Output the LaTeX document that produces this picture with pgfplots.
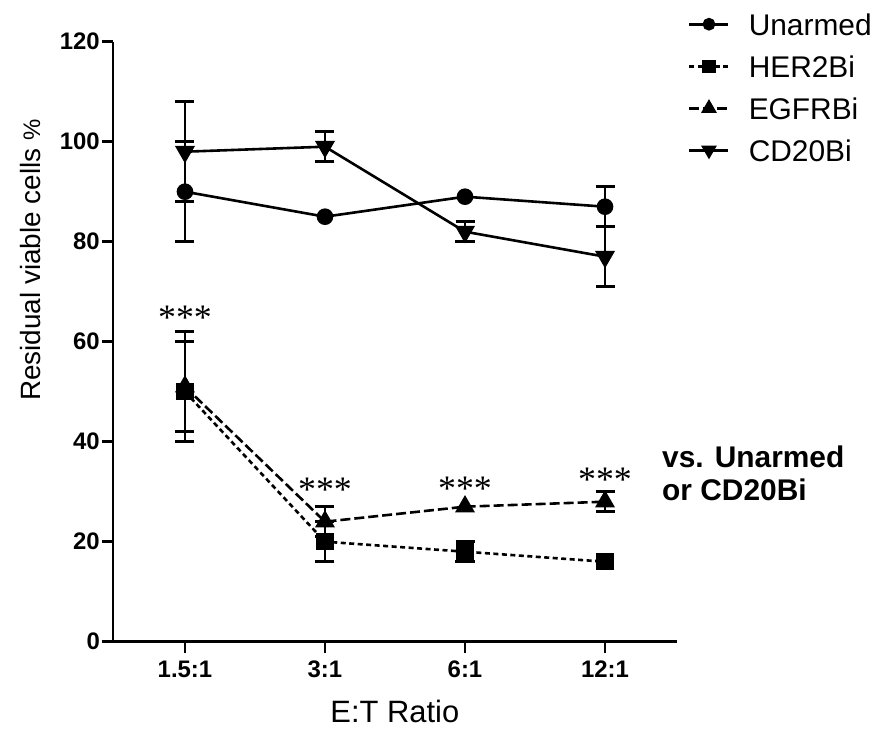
\documentclass[border=0pt]{standalone}
\usepackage{pgfplots}
\pgfplotsset{compat=1.18}
\usepackage{fontspec}
\setmainfont{Liberation Sans}
\newfontfamily\starfont{Liberation Serif}

% means; error tables hold only the visible bars
\pgfplotstableread{
x y
0 90
1 85
2 89
3 87
}\unarmed
\pgfplotstableread{
x y ep em
0 90 10 10
3 87 4 4
}\unarmedErr

\pgfplotstableread{
x y
0 50
1 20
2 18
3 16
}\her
\pgfplotstableread{
x y ep em
0 50 10 10
1 20 4 4
2 18 2 2
}\herErr

\pgfplotstableread{
x y
0 51
1 24
2 27
3 28
}\egfr
\pgfplotstableread{
x y ep em
0 51 11 9
1 24 3 3
3 28 2 2
}\egfrErr

\pgfplotstableread{
x y
0 98
1 99
2 82
3 77
}\cdtw
\pgfplotstableread{
x y ep em
0 98 10 10
1 99 3 3
2 82 2 2
3 77 6 6
}\cdtwErr

\pgfplotsset{
  errbars/.style={only marks, mark=none, forget plot, solid,
    error bars/.cd, y dir=both, y explicit,
    error bar style={line width=2.5bp, solid, black},
    error mark options={rotate=90, mark size=9.5bp, line width=2.5bp, black}},
}

\begin{document}
\begin{tikzpicture}
\path[use as bounding box] (0,0) rectangle (885bp,729bp);
\begin{axis}[
  at={(113bp,87.3bp)}, anchor=south west,
  scale only axis, width=563.7bp, height=600bp,
  xmin=-0.514, xmax=3.512, ymin=0, ymax=120,
  axis lines=left,
  axis line style={-, line width=2.8bp},
  xtick={0,1,2,3}, xticklabels={1.5:1,3:1,6:1,12:1},
  ytick={0,20,40,60,80,100,120},
  yticklabels={0,20,40,60,80,100,120},
  tick align=outside, major tick length=11bp,
  tick style={line width=2.5bp, black},
  ticklabel style={font=\fontsize{24}{28}\selectfont\bfseries},
  xticklabel style={anchor=north, inner sep=0pt, yshift=-8bp},
  yticklabel style={anchor=east, inner sep=0pt, xshift=-2bp},
  xlabel={E:T Ratio},
  xlabel style={at={(axis description cs:0.5,-0.117)}, anchor=center,
    font=\fontsize{31}{36}\selectfont},
  ylabel={Residual viable cells {\fontsize{24}{28}\selectfont\%}},
  ylabel style={at={(axis description cs:-0.147,0.636)}, anchor=center,
    rotate=0, font=\fontsize{28}{32}\selectfont},
  clip=false,
  legend cell align=left,
  legend style={at={(axis description cs:1.020,1.0478)}, anchor=north west,
    draw=none, fill=none, inner sep=0pt, row sep=20bp, column sep=19bp,
    nodes={inner sep=0pt, text height=22bp, text depth=0pt},
    font=\fontsize{30}{36}\selectfont},
  legend image code/.code={%
    \draw[mark repeat=2, mark phase=2, #1,
      every mark/.append style={scale=0.72}]
      plot coordinates {(0bp,0bp) (19.5bp,0bp) (39bp,0bp)};},
  every axis plot/.append style={black, line width=2.6bp},
]
% error bars first, marks on top
\addplot[errbars] table[x=x, y=y, y error plus=ep, y error minus=em] {\unarmedErr};
\addplot[errbars] table[x=x, y=y, y error plus=ep, y error minus=em] {\herErr};
\addplot[errbars] table[x=x, y=y, y error plus=ep, y error minus=em] {\egfrErr};
\addplot[errbars] table[x=x, y=y, y error plus=ep, y error minus=em] {\cdtwErr};

\addplot[solid, mark=*, mark size=7bp] table[x=x, y=y] {\unarmed};
\addplot[dash pattern=on 5bp off 3.5bp, mark=square*, mark size=7.5bp,
  mark options={solid}] table[x=x, y=y] {\her};
\addplot[dash pattern=on 10bp off 4bp, mark=triangle*, mark size=9bp,
  mark options={solid}] table[x=x, y=y] {\egfr};
\addplot[solid, mark=triangle*, mark size=9bp,
  mark options={solid, rotate=180}] table[x=x, y=y] {\cdtw};
\legend{Unarmed, HER2Bi, EGFRBi, CD20Bi}

\begin{scope}[every node/.style={font=\starfont\fontsize{36}{36}\selectfont, inner sep=0pt}]
\node at (axis cs:0,64.7) {***};
\node at (axis cs:1,30.3) {***};
\node at (axis cs:2,30.5) {***};
\node at (axis cs:3,32.3) {***};
\end{scope}
\node[anchor=base west, inner sep=0pt, font=\fontsize{30}{34}\selectfont\bfseries]
  at (axis cs:3.407,34.9) {vs. Unarmed};
\node[anchor=base west, inner sep=0pt, font=\fontsize{30}{34}\selectfont\bfseries]
  at (axis cs:3.407,28.3) {or CD20Bi};
\end{axis}
\end{tikzpicture}
\end{document}
